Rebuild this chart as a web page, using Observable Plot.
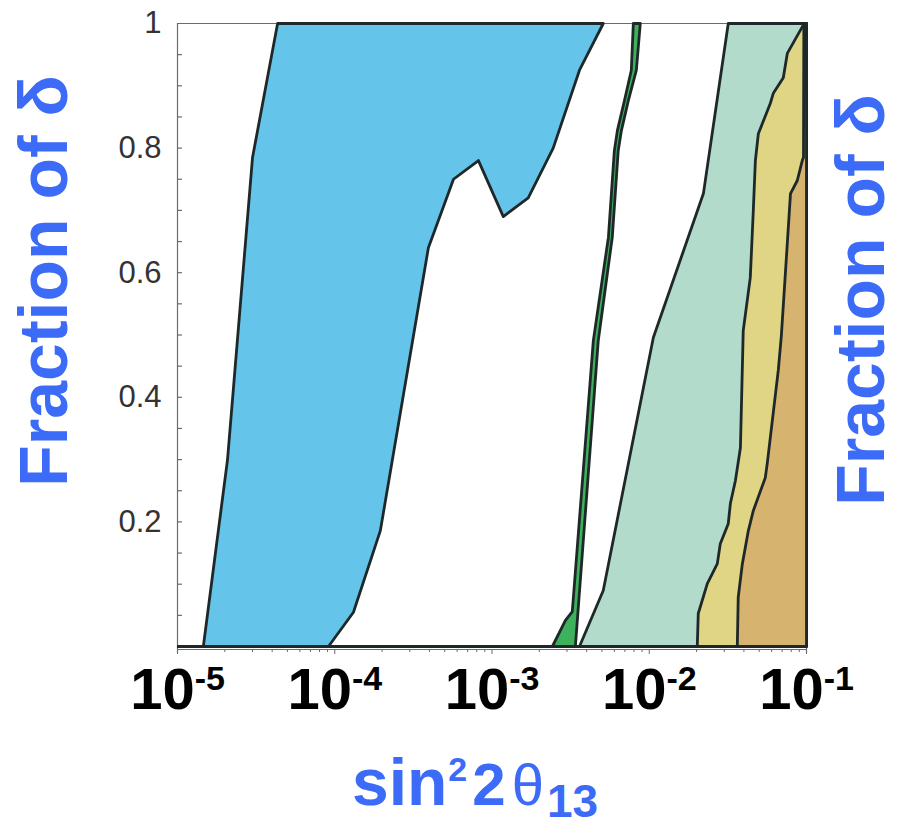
<!DOCTYPE html>
<html><head><meta charset="utf-8">
<script src="https://cdn.jsdelivr.net/npm/d3@7"></script>
<script src="https://cdn.jsdelivr.net/npm/@observablehq/plot@0.6"></script>
<style>body{margin:0;background:#fff}</style>
</head><body><div id="chart"></div>
<script>
// ---- data (sin^2 2θ13 , fraction of δ) ----
const blueX = [1.46e-5, 2.08e-5, 3.00e-5, 4.33e-5, 5.10e-3, 3.60e-3, 2.45e-3, 1.70e-3, 1.18e-3, 8.2e-4, 5.69e-4, 3.94e-4, 1.95e-4, 1.315e-4, 9.12e-5];
const blueY = [0, 0.30, 0.785, 1, 1, 0.925, 0.80, 0.72, 0.69, 0.78, 0.75, 0.64, 0.186, 0.055, 0];

const greenX = [2.42e-3, 2.93e-3, 3.24e-3, 4.41e-3, 5.50e-3, 6.00e-3, 6.27e-3, 6.95e-3, 7.69e-3, 7.92e-3, 8.77e-3, 8.28e-3, 7.36e-3, 6.65e-3, 6.35e-3, 5.82e-3, 4.74e-3, 3.39e-3];
const greenY = [0, 0.042, 0.056, 0.491, 0.657, 0.796, 0.828, 0.876, 0.925, 1, 1, 0.925, 0.876, 0.828, 0.796, 0.657, 0.491, 0];

const tealX = [3.60e-3, 5.10e-3, 1.062e-2, 2.21e-2, 3.18e-2, 0.1, 0.1];
const tealY = [0, 0.090, 0.496, 0.727, 1, 1, 0];

const yellowX = [2.02e-2, 2.05e-2, 2.34e-2, 2.71e-2, 2.83e-2, 3.18e-2, 3.28e-2, 3.53e-2, 3.80e-2, 3.96e-2, 4.39e-2, 4.59e-2, 4.73e-2, 4.94e-2, 5.89e-2, 6.15e-2, 7.12e-2, 7.55e-2, 9.13e-2, 9.68e-2, 0.1, 0.1];
const yellowY = [0, 0.053, 0.101, 0.133, 0.165, 0.197, 0.2295, 0.266, 0.319, 0.507, 0.592, 0.700, 0.780, 0.823, 0.872, 0.888, 0.913, 0.952, 0.989, 1, 1, 0];

const tanX = [3.63e-2, 3.68e-2, 3.91e-2, 4.27e-2, 4.59e-2, 5.47e-2, 5.63e-2, 6.62e-2, 6.92e-2, 7.55e-2, 7.91e-2, 8.74e-2, 9.40e-2, 9.57e-2, 9.62e-2, 0.1, 0.1];
const tanY = [0, 0.079, 0.133, 0.186, 0.218, 0.271, 0.294, 0.444, 0.499, 0.647, 0.727, 0.748, 0.780, 0.785, 1, 1, 0];

const xTicks = [1e-5, 1e-4, 1e-3, 1e-2, 1e-1];
const xTickExponents = ["-5", "-4", "-3", "-2", "-1"];
const xMinorTicks = [2e-5,3e-5,4e-5,5e-5,6e-5,7e-5,8e-5,9e-5,
  2e-4,3e-4,4e-4,5e-4,6e-4,7e-4,8e-4,9e-4,
  2e-3,3e-3,4e-3,5e-3,6e-3,7e-3,8e-3,9e-3,
  2e-2,3e-2,4e-2,5e-2,6e-2,7e-2,8e-2,9e-2];
const yTicks = [0.2, 0.4, 0.6, 0.8, 1];
const yTickLabels = ["0.2", "0.4", "0.6", "0.8", "1"];
const yMinorTicks = [0.05,0.1,0.15,0.2,0.25,0.3,0.35,0.4,0.45,0.5,0.55,0.6,0.65,0.7,0.75,0.8,0.85,0.9,0.95];

function poly(xs, ys) {
  const pts = xs.map((x, i) => ({x, y: ys[i]}));
  pts.push(pts[0]);
  return pts;
}

const edge = "#1f2828";
const frameColor = "#6b6b6b";
const regionOpts = (fill) => ({x: "x", y: "y", fill, stroke: edge, strokeWidth: 2.8, strokeLinejoin: "round", curve: "linear"});

const svg = Plot.plot({
  width: 899,
  height: 827,
  marginLeft: 177,
  marginRight: 93,
  marginTop: 23,
  marginBottom: 181,
  x: {type: "log", domain: [1e-5, 1e-1]},
  y: {domain: [0, 1]},
  style: {background: "white", fontFamily: "'Liberation Sans', Arial, sans-serif"},
  marks: [
    Plot.ruleY([1], {stroke: frameColor, strokeWidth: 1.2}),
    Plot.ruleX([1e-5], {stroke: frameColor, strokeWidth: 1.2, insetBottom: -7}),
    Plot.ruleX([1e-1], {stroke: frameColor, strokeWidth: 1.2, insetBottom: -7}),
    Plot.ruleY([0], {stroke: frameColor, strokeWidth: 1.2, dy: 3}),
    Plot.line(poly(blueX, blueY), regionOpts("#64C4EA")),
    Plot.line(poly(greenX, greenY), regionOpts("#3DB15C")),
    Plot.line(poly(tealX, tealY), regionOpts("#B2DBCB")),
    Plot.line(poly(yellowX, yellowY), regionOpts("#DFD584")),
    Plot.line(poly(tanX, tanY), regionOpts("#D6B36E")),
    Plot.ruleY([0], {stroke: edge, strokeWidth: 3}),
    Plot.ruleY(yMinorTicks, {stroke: frameColor, strokeWidth: 1.2, insetRight: 624}),
    Plot.axisY({ticks: yTicks, tickFormat: d => yTickLabels[yTicks.indexOf(d)], tickSize: 0, tickPadding: 16,
      fontSize: 31, fill: "#333", label: null}),
    Plot.axisX({ticks: xMinorTicks, tickFormat: () => "", tickSize: 3, dy: 3, stroke: frameColor, label: null}),
    Plot.axisX({ticks: xTicks, tickFormat: d => "10" + xTickExponents[xTicks.indexOf(d)], tickSize: 5, tickPadding: 13, dy: 3,
      stroke: frameColor, fill: "black", fontSize: 58, fontWeight: "bold", label: null})
  ]
});
document.getElementById("chart").append(svg);

const s = d3.select(svg);
// superscripts on decade labels
s.selectAll('g[aria-label="x-axis tick label"] text').each(function() {
  const t = this.textContent;
  if (!t) return;
  const base = t.slice(0, 2), sup = t.slice(2);
  const el = d3.select(this);
  el.text(null);
  el.append("tspan").text(base);
  el.append("tspan").attr("font-size", 34).attr("dy", -19).text(sup);
});

const blue = "#3B6BF7";
const font = "'Liberation Sans', Arial, sans-serif";
// y labels (left and right)
[[67, 281], [884, 300]].forEach(([x, y]) => {
  s.append("text")
    .attr("transform", `translate(${x},${y}) rotate(-90)`)
    .attr("text-anchor", "middle")
    .attr("font-family", font)
    .attr("font-size", 68)
    .attr("font-weight", "bold")
    .attr("fill", blue)
    .text("Fraction of δ");
});
// x label sin^2 2θ13
const xl = s.append("text")
  .attr("x", 352).attr("y", 805)
  .attr("text-anchor", "start")
  .attr("font-family", font)
  .attr("font-weight", "bold")
  .attr("fill", blue);
xl.append("tspan").attr("font-size", 66).text("sin");
xl.append("tspan").attr("font-size", 34).attr("dy", -24).attr("dx", 1).text("2");
xl.append("tspan").attr("font-size", 60).attr("dy", 24).attr("dx", 5).text("2");
xl.append("tspan").attr("font-size", 58).attr("dx", 6).attr("font-weight", "normal").text("θ");
xl.append("tspan").attr("font-size", 46).attr("dy", 12).attr("dx", 3).text("13");
</script>
</body></html>
